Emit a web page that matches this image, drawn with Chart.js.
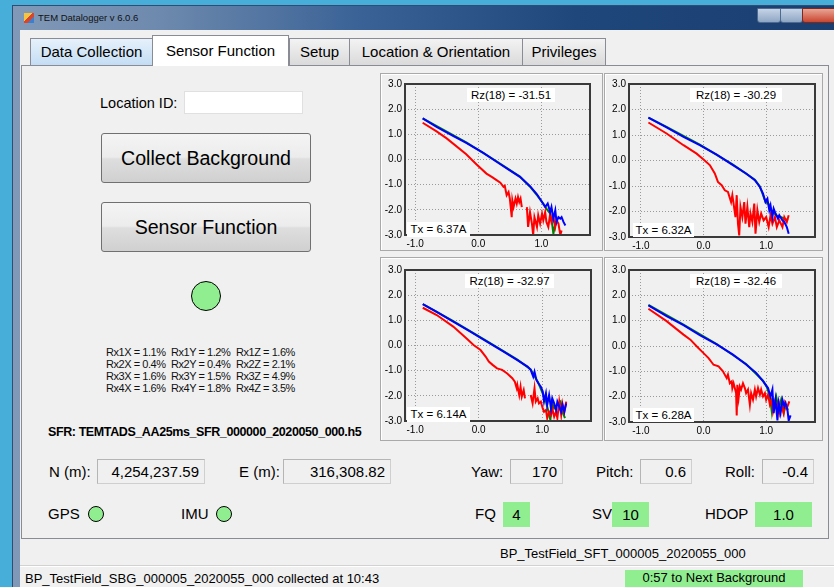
<!DOCTYPE html>
<html>
<head>
<meta charset="utf-8">
<title>TEM Datalogger</title>
<script src="https://cdn.jsdelivr.net/npm/chart.js@4.4.1/dist/chart.umd.min.js"></script>
<style>
body{margin:0;width:834px;height:587px;overflow:hidden;position:relative;background:#46aed9;font-family:"Liberation Sans",Arial,sans-serif;color:#000}
div,canvas,span{box-sizing:border-box}
.a{position:absolute}
#frame{left:12px;top:5px;width:830px;height:590px;background:linear-gradient(90deg,#8199b8 0%,#6d89ad 18%,#3a6296 42%,#1f477b 68%,#1b3e70 100%);border:1px solid #2f4c72}
#title{left:38px;top:12px;font-size:9.5px;color:#111}
#icon{left:24px;top:13px;width:10px;height:10px;background:linear-gradient(135deg,#f5c542 0 45%,#d9452b 45% 70%,#3b7fd1 70%)}
.wbtn{top:8px;height:15px;border:1px solid #4d6a90;border-radius:0 0 3px 3px;background:linear-gradient(#c6d4e6,#8ea6c4)}
#client{left:20px;top:30px;width:816px;height:560px;background:#f0f0f0}
.tab{top:38px;height:27px;border:1px solid #898c95;border-bottom:none;font-size:15px;line-height:26px;text-align:center;background:linear-gradient(#f3f3f3,#dadada)}
#panel{left:21px;top:65px;width:808px;height:474px;border:1px solid #898c95;background:#f0f0f0}
.btn{left:101px;width:210px;height:50px;border:1px solid #707070;border-radius:3px;font-size:19.6px;line-height:48px;text-align:center;background:linear-gradient(#f4f4f4 0%,#ececec 48%,#dedede 52%,#d0d0d0 100%)}
.gbox{border:1px solid #a9a9a9;box-shadow:inset 1px 1px 0 #fff}
.rx{left:106px;font-size:11px;letter-spacing:-0.45px;line-height:12px;color:#111;white-space:nowrap}
.rx span{display:inline-block;width:65px}
.lbl{font-size:15px;line-height:18px;white-space:nowrap}
.vbox{height:25px;border:1px solid #cfcfcf;border-top-color:#b5b5b5;border-left-color:#b5b5b5;background:#f0f0f0;font-size:15px;line-height:23px;text-align:right;padding-right:5px}
.gcell{top:502px;height:25px;background:#90ee90;font-size:15px;line-height:25px;text-align:center}
.led{width:16px;height:16px;border-radius:50%;border:1px solid #000;background:#90ee90}
.note{background:#fff;font-size:11.5px;text-align:center;white-space:nowrap;color:#000}
.stat{font-size:13px;white-space:nowrap;line-height:16px}
canvas{position:absolute}
</style>
</head>
<body>
<div id="frame" class="a"></div>
<div id="icon" class="a"></div>
<div id="title" class="a">TEM Datalogger v 6.0.6</div>
<div class="a wbtn" style="left:757px;width:24px"></div>
<div class="a wbtn" style="left:780px;width:23px"></div>
<div class="a wbtn" style="left:802px;width:40px;border-color:#7a2a20;background:linear-gradient(#e9a595,#c9452f)"></div>
<div id="client" class="a"></div>

<div id="panel" class="a"></div>
<div class="a tab" style="left:30px;width:123px;background:linear-gradient(#e6f1fb,#c4ddf4)">Data Collection</div>
<div class="a tab" style="left:152px;top:35px;width:137px;height:31px;background:#fff;line-height:30px;z-index:2">Sensor Function</div>
<div class="a tab" style="left:289px;width:61px">Setup</div>
<div class="a tab" style="left:349px;width:174px">Location &amp; Orientation</div>
<div class="a tab" style="left:522px;width:84px">Privileges</div>

<div class="a lbl" style="left:100px;top:94px;font-size:14.5px">Location ID:</div>
<div class="a" style="left:184px;top:91px;width:119px;height:23px;background:#fff;border:1px solid #e0e0e0"></div>
<div class="a btn" style="top:133px">Collect Background</div>
<div class="a btn" style="top:202px">Sensor Function</div>
<div class="a" style="left:191px;top:281px;width:30px;height:30px;border-radius:50%;border:1px solid #000;background:#90ee90"></div>

<div class="a rx" style="top:346px"><span>Rx1X = 1.1%</span><span>Rx1Y = 1.2%</span><span>Rx1Z = 1.6%</span></div>
<div class="a rx" style="top:358px"><span>Rx2X = 0.4%</span><span>Rx2Y = 0.4%</span><span>Rx2Z = 2.1%</span></div>
<div class="a rx" style="top:370px"><span>Rx3X = 1.6%</span><span>Rx3Y = 1.5%</span><span>Rx3Z = 4.9%</span></div>
<div class="a rx" style="top:382px"><span>Rx4X = 1.6%</span><span>Rx4Y = 1.8%</span><span>Rx4Z = 3.5%</span></div>
<div class="a" style="left:48px;top:425px;font-size:12.5px;font-weight:bold;letter-spacing:-0.4px;white-space:nowrap">SFR: TEMTADS_AA25ms_SFR_000000_2020050_000.h5</div>

<div class="a gbox" style="left:380px;top:73px;width:223px;height:178px"></div>
<div class="a gbox" style="left:604px;top:73px;width:219px;height:178px"></div>
<div class="a gbox" style="left:380px;top:257px;width:223px;height:184px"></div>
<div class="a gbox" style="left:604px;top:257px;width:219px;height:184px"></div>

<canvas id="c1" width="219" height="179" style="left:378px;top:73px"></canvas>
<canvas id="c2" width="218" height="179" style="left:605px;top:73px"></canvas>
<canvas id="c3" width="219" height="183" style="left:378px;top:258px"></canvas>
<canvas id="c4" width="218" height="183" style="left:605px;top:258px"></canvas>

<div class="a lbl" style="left:49px;top:463px">N (m):</div>
<div class="a vbox" style="left:97px;top:459px;width:108px">4,254,237.59</div>
<div class="a lbl" style="left:239px;top:463px">E (m):</div>
<div class="a vbox" style="left:283px;top:459px;width:108px">316,308.82</div>
<div class="a lbl" style="left:471px;top:463px">Yaw:</div>
<div class="a vbox" style="left:510px;top:459px;width:53px">170</div>
<div class="a lbl" style="left:596px;top:463px">Pitch:</div>
<div class="a vbox" style="left:640px;top:459px;width:52px">0.6</div>
<div class="a lbl" style="left:725px;top:463px">Roll:</div>
<div class="a vbox" style="left:762px;top:459px;width:52px">-0.4</div>

<div class="a lbl" style="left:48px;top:505px">GPS</div>
<div class="a led" style="left:88px;top:506px"></div>
<div class="a lbl" style="left:181px;top:505px">IMU</div>
<div class="a led" style="left:216px;top:506px"></div>
<div class="a lbl" style="left:475px;top:505px">FQ</div>
<div class="a gcell" style="left:503px;width:27px">4</div>
<div class="a lbl" style="left:592px;top:505px">SV</div>
<div class="a gcell" style="left:612px;width:37px">10</div>
<div class="a lbl" style="left:705px;top:505px">HDOP</div>
<div class="a gcell" style="left:755px;width:57px">1.0</div>

<div class="a" style="left:20px;top:565px;width:816px;height:1px;background:#d2d2d2"></div>
<div class="a" style="left:20px;top:566px;width:816px;height:1px;background:#fff"></div>
<div class="a stat" style="left:500px;top:546px">BP_TestField_SFT_000005_2020055_000</div>
<div class="a stat" style="left:25px;top:571px">BP_TestField_SBG_000005_2020055_000 collected at 10:43</div>
<div class="a stat" style="left:625px;top:570px;width:178px;height:17px;background:#90ee90;text-align:center">0:57 to Next Background</div>

<div id="notes"></div>

<script>
// axis ticks and annotation texts
var xTicks = [-1, 0, 1];
var yTicks = [-3, -2, -1, 0, 1, 2, 3];
var rzLabels = ['Rz(18) = -31.51', 'Rz(18) = -30.29', 'Rz(18) = -32.97', 'Rz(18) = -32.46'];
var txLabels = ['Tx = 6.37A', 'Tx = 6.32A', 'Tx = 6.14A', 'Tx = 6.28A'];

// decay curves, [x, y] pairs (null = gap)
var c1Blue = [[-0.88,1.63],[-0.66,1.30],[-0.40,0.94],[-0.19,0.66],[0.08,0.26],[0.29,-0.09],[0.50,-0.43],[0.66,-0.69],[0.82,-1.06],[0.93,-1.38],[1.01,-1.69],[1.06,-1.89],[1.10,-1.75],[1.14,-2.09],[1.16,-1.89],[1.19,-2.35],[1.22,-2.02],[1.24,-2.48],[1.27,-2.29],[1.30,-2.35],[1.32,-2.29],[1.35,-2.48],[1.38,-2.62]];
var c1Green = [[-0.88,1.63],[-0.19,0.68],[0.29,-0.07],[0.66,-0.68],[0.82,-1.08],[0.93,-1.42],[1.03,-1.75],[1.08,-1.95],[1.14,-2.15],[1.17,-2.55],[1.19,-2.95],[1.21,-2.68],[1.24,-2.48]];
var c1Red = [[-0.88,1.46],[-0.66,1.12],[-0.50,0.84],[-0.19,0.21],[-0.03,-0.19],[0.13,-0.56],[0.22,-0.70],[0.29,-0.82],[0.35,-0.92],[0.40,-1.09],[0.42,-1.05],[0.45,-1.42],[0.48,-1.29],[0.50,-1.55],[0.53,-2.29],[0.54,-1.62],[0.56,-1.89],[0.59,-1.55],[0.61,-1.75],[0.63,-1.49],[0.65,-1.69],[0.67,-1.55],[0.69,-1.89],[0.73,null],[0.77,-1.89],[0.79,-2.68],[0.82,-2.09],[0.85,-2.55],[0.87,-3.0],[0.89,-2.29],[0.93,-2.68],[0.95,-2.22],[0.98,-2.55],[1.01,-2.15],[1.03,-2.42],[1.06,-2.09],[1.08,-2.48],[1.11,-2.68],[1.14,-2.15],[1.16,-2.48],[1.19,-2.29],[1.22,-2.68],[1.24,-2.42],[1.27,-2.55],[1.30,-3.0],[1.32,-2.82]];

var c2Blue = [[-0.88,1.68],[-0.59,1.30],[-0.32,0.93],[-0.06,0.60],[0.21,0.23],[0.47,-0.18],[0.68,-0.51],[0.82,-0.77],[0.90,-1.04],[0.95,-1.30],[0.99,-1.63],[1.02,-1.50],[1.05,-1.95],[1.07,-1.76],[1.10,-2.22],[1.12,-1.89],[1.15,-2.08],[1.19,-2.28],[1.21,-2.15],[1.26,-2.35],[1.29,-2.41],[1.33,-2.61],[1.36,-2.87]];
var c2Green = [[-0.88,1.68],[-0.59,1.32],[-0.06,0.62],[0.47,-0.16],[0.82,-0.75],[0.90,-1.02],[0.99,-1.63],[1.04,-1.70],[1.08,-1.95],[1.12,-2.05],[1.16,-2.15],[1.24,-2.22],[1.29,-2.28],[1.35,-2.35]];
var c2Red = [[-0.88,1.49],[-0.59,1.06],[-0.32,0.60],[-0.11,0.27],[0.0,0.04],[0.10,-0.18],[0.18,-0.51],[0.23,-0.84],[0.29,-0.97],[0.34,-1.17],[0.39,-1.23],[0.44,-1.63],[0.46,-1.36],[0.48,-1.69],[0.51,-2.22],[0.53,-1.36],[0.55,-2.48],[0.57,-2.94],[0.59,-1.82],[0.62,-2.22],[0.65,-1.63],[0.67,-2.48],[0.70,-1.82],[0.73,-2.61],[0.75,-2.08],[0.78,-2.41],[0.81,-1.69],[0.83,-2.87],[0.86,-1.95],[0.89,-2.41],[0.92,-2.08],[0.96,-2.35],[1.00,-2.22],[1.04,-2.61],[1.07,-2.15],[1.10,-2.48],[1.14,-2.22],[1.17,-2.61],[1.21,-2.35],[1.26,-2.61],[1.29,-2.22],[1.33,-2.41],[1.36,-2.15]];

var c3Blue = [[-0.88,1.64],[-0.66,1.34],[-0.40,0.95],[-0.13,0.55],[0.13,0.15],[0.40,-0.25],[0.61,-0.58],[0.77,-0.84],[0.82,-0.97],[0.86,-1.24],[0.88,-1.04],[0.91,-1.37],[0.94,-1.50],[0.98,-1.64],[1.01,-1.83],[1.03,-2.23],[1.06,-1.90],[1.08,-2.36],[1.11,-1.97],[1.14,-2.50],[1.16,-2.10],[1.19,-2.30],[1.22,-2.56],[1.24,-2.23],[1.27,-2.43],[1.30,-2.63],[1.32,-2.36],[1.35,-2.63],[1.38,-2.30]];
var c3Green = [[-0.88,1.64],[-0.40,0.97],[0.13,0.17],[0.61,-0.56],[0.82,-0.95],[0.94,-1.48],[1.02,-1.97],[1.06,-2.23],[1.10,-2.63],[1.13,-2.96],[1.15,-2.23],[1.19,-2.50],[1.24,-2.36],[1.29,-2.23],[1.32,-2.63],[1.36,-2.89]];
var c3Red = [[-0.88,1.50],[-0.66,1.21],[-0.40,0.75],[-0.19,0.28],[-0.08,0.02],[0.03,-0.18],[0.11,-0.44],[0.16,-0.64],[0.22,-0.77],[0.29,-0.91],[0.37,-0.97],[0.45,-1.11],[0.53,-1.30],[0.57,-1.44],[0.60,-1.70],[0.61,-1.57],[0.64,-1.97],[0.66,-1.64],[0.68,-2.03],[0.71,-1.77],[0.73,-2.10],[0.77,null],[0.82,-1.97],[0.85,-2.30],[0.88,-1.70],[0.90,-2.23],[0.93,-2.10],[0.95,-2.30],[0.98,-2.23],[1.01,-2.50],[1.03,-2.63],[1.06,-2.56],[1.08,-2.89],[1.11,-2.63],[1.14,-2.76],[1.16,-2.50],[1.19,-2.83],[1.22,-2.63],[1.24,-2.89],[1.27,-2.23],[1.30,-2.76],[1.32,-2.30],[1.35,-2.63],[1.38,-2.23]];

var c4Blue = [[-0.88,1.60],[-0.59,1.18],[-0.32,0.82],[-0.06,0.43],[0.21,0.06],[0.47,-0.34],[0.68,-0.73],[0.84,-1.06],[0.95,-1.39],[1.03,-1.66],[1.07,-1.99],[1.10,-1.72],[1.12,-2.65],[1.15,-2.12],[1.18,-2.94],[1.20,-2.25],[1.23,-2.65],[1.26,-2.12],[1.29,-2.38],[1.31,-2.25],[1.34,-2.52],[1.36,-2.94],[1.39,-2.74]];
var c4Green = [[-0.88,1.62],[-0.32,0.84],[0.21,0.08],[0.68,-0.71],[0.95,-1.37],[1.01,-1.62],[1.06,-1.99],[1.09,-2.58],[1.11,-2.12],[1.13,-2.25],[1.16,-1.99],[1.20,-2.52],[1.24,-2.12],[1.28,-2.65],[1.31,-2.38],[1.35,-2.52]];
var c4Red = [[-0.88,1.47],[-0.59,0.98],[-0.32,0.45],[-0.21,0.25],[-0.11,-0.01],[0.0,-0.28],[0.08,-0.48],[0.16,-0.74],[0.24,-0.80],[0.31,-1.00],[0.37,-1.27],[0.39,-1.13],[0.42,-1.47],[0.45,-1.40],[0.46,-1.66],[0.48,-1.47],[0.52,-1.86],[0.53,-2.74],[0.54,-1.53],[0.56,-2.05],[0.58,-1.60],[0.60,-1.72],[0.63,-1.47],[0.66,-1.66],[0.68,-1.86],[0.71,-1.72],[0.74,-2.32],[0.76,-1.86],[0.79,-2.12],[0.82,-1.72],[0.84,-1.99],[0.87,-1.66],[0.90,-1.92],[0.92,-1.72],[0.95,-1.99],[0.98,-1.86],[1.00,-2.12],[1.03,-1.92],[1.06,-2.32],[1.09,-2.12],[1.11,-2.58],[1.14,-2.25],[1.17,-2.45],[1.20,-2.25],[1.22,-2.65],[1.25,-2.38],[1.28,-2.65],[1.30,-2.25],[1.33,-2.45],[1.37,-2.19]];

// dark frame round each plot area
var framePlugin = {
    id: 'plotFrame',
    afterDatasetsDraw: function(chart) {
        var a = chart.chartArea, c = chart.ctx;
        c.save();
        c.strokeStyle = '#3a3a3a';
        c.lineWidth = 2;
        c.strokeRect(a.left, a.top, a.right - a.left, a.bottom - a.top);
        c.restore();
    }
};

var tickFont = { family: '"Liberation Sans", Arial, sans-serif', size: 10 };

function drawPlot(id, blue, green, red, box) {
    var ctx = document.getElementById(id).getContext('2d');
    return new Chart(ctx, {
        type: 'line',
        data: {
            datasets: [
                { data: blue, borderColor: '#0000ff' },
                { data: red, borderColor: '#ff0000' },
                { data: green, borderColor: '#008000' }
            ]
        },
        options: {
            responsive: false,
            animation: false,
            devicePixelRatio: 1,
            datasets: { line: { borderWidth: 2, pointRadius: 0, tension: 0, spanGaps: false } },
            layout: { padding: { left: 0, right: box.pr, top: box.pt, bottom: 0 } },
            plugins: { legend: { display: false }, tooltip: { enabled: false } },
            scales: {
                x: {
                    type: 'linear', min: box.xmin, max: box.xmax,
                    afterBuildTicks: function(s) { s.ticks = xTicks.map(function(v) { return { value: v }; }); },
                    afterFit: function(s) { s.height = box.xh; },
                    ticks: { font: tickFont, color: '#000', padding: 3, maxRotation: 0, autoSkip: false,
                             callback: function(v) { return v.toFixed(1); } },
                    grid: { color: '#9a9a9a', lineWidth: 1, drawTicks: false },
                    border: { display: false, dash: [1, 2] }
                },
                y: {
                    type: 'linear', min: -3, max: 3,
                    afterBuildTicks: function(s) { s.ticks = yTicks.map(function(v) { return { value: v }; }); },
                    afterFit: function(s) { s.width = box.yw; },
                    ticks: { font: tickFont, color: '#000', padding: 3, autoSkip: false,
                             callback: function(v) { return v.toFixed(1); } },
                    grid: { color: '#9a9a9a', lineWidth: 1, drawTicks: false },
                    border: { display: false, dash: [1, 2] }
                }
            }
        },
        plugins: [framePlugin]
    });
}

drawPlot('c1', c1Blue, c1Green, c1Red, { yw: 27, pr: 7, pt: 11, xh: 17, xmin: -1.16, xmax: 1.77 });
drawPlot('c2', c2Blue, c2Green, c2Red, { yw: 24, pr: 8, pt: 11, xh: 15, xmin: -1.19, xmax: 1.78 });
drawPlot('c3', c3Blue, c3Green, c3Red, { yw: 27, pr: 6, pt: 12, xh: 20, xmin: -1.16, xmax: 1.77 });
drawPlot('c4', c4Blue, c4Green, c4Red, { yw: 24, pr: 8, pt: 12, xh: 19, xmin: -1.19, xmax: 1.78 });

// white label boxes inside the plots
var rzBoxes = [[467, 88, 88, 14], [690, 88, 92, 14], [465, 274, 89, 14], [690, 274, 92, 14]];
var txBoxes = [[407, 222, 63, 15], [633, 223, 61, 14], [407, 407, 63, 15], [633, 408, 61, 14]];
var notes = document.getElementById('notes');
function addNote(text, b) {
    var d = document.createElement('div');
    d.className = 'a note';
    d.style.cssText = 'left:' + b[0] + 'px;top:' + b[1] + 'px;width:' + b[2] + 'px;height:' + b[3] + 'px;line-height:' + b[3] + 'px';
    d.textContent = text;
    notes.appendChild(d);
}
rzLabels.forEach(function(t, i) { addNote(t, rzBoxes[i]); });
txLabels.forEach(function(t, i) { addNote(t, txBoxes[i]); });
</script>
</body>
</html>
